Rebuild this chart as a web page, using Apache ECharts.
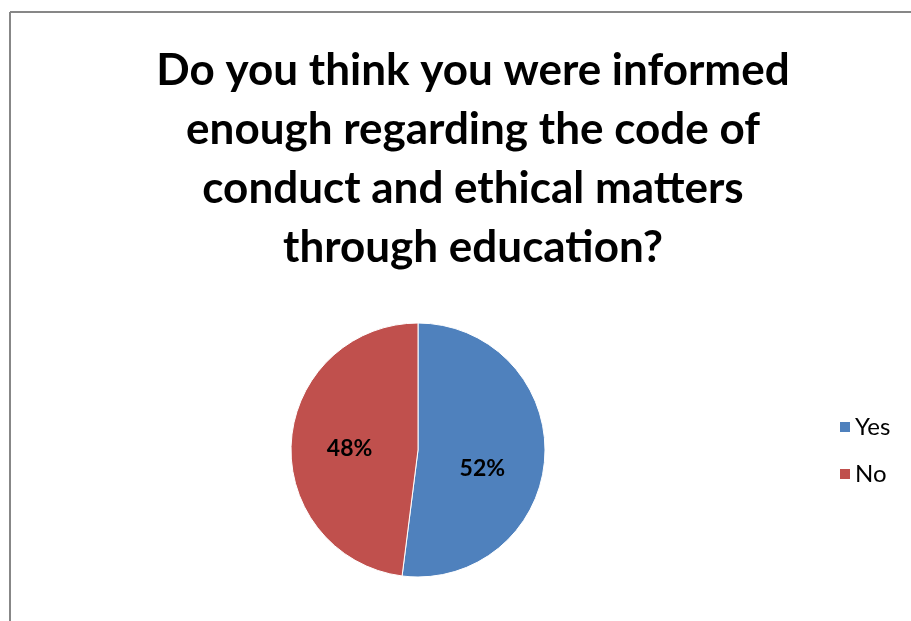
<!DOCTYPE html>
<html>
<head>
<meta charset="utf-8">
<style>
  html, body { margin: 0; padding: 0; background: #fff; }
  #chart { width: 911px; height: 621px; }
</style>
<script src="https://cdn.jsdelivr.net/npm/echarts@6/dist/echarts.min.js"></script>
</head>
<body>
<div id="chart"></div>
<script>
// Survey answers and their shares (percent)
const categories = ['Yes', 'No'];
const shares = [52, 48];
const colors = ['#4F81BD', '#C0504D'];
const titleText = 'Do you think you were informed\nenough regarding the code of\nconduct and ethical matters\nthrough education?';

const labelOffsets = [[-2, 14], [-2, 3]];

const chart = echarts.init(document.getElementById('chart'), null, { renderer: 'canvas' });

chart.setOption({
  animation: false,
  backgroundColor: '#ffffff',
  title: {
    text: titleText,
    left: 468,
    textAlign: 'center',
    top: 36,
    textStyle: {
      fontFamily: 'Lato, "Open Sans", sans-serif',
      fontWeight: 'bold',
      fontSize: 44,
      lineHeight: 59,
      color: '#000'
    }
  },
  legend: {
    orient: 'vertical',
    left: 833,
    top: 410,
    itemWidth: 12,
    itemHeight: 12,
    itemGap: 23,
    icon: 'rect',
    textStyle: {
      fontFamily: 'Lato, "Open Sans", sans-serif',
      fontSize: 24,
      color: '#000',
      padding: [0, 0, 0, -1]
    },
    data: categories
  },
  graphic: [
    { type: 'line', shape: { x1: 10, y1: 12, x2: 911, y2: 12 }, style: { stroke: '#878787', lineWidth: 2 } },
    { type: 'line', shape: { x1: 10, y1: 12, x2: 10, y2: 621 }, style: { stroke: '#878787', lineWidth: 2 } }
  ],
  series: [{
    type: 'pie',
    center: [418, 450],
    radius: [0, 127],
    startAngle: 90,
    clockwise: true,
    data: categories.map((name, i) => ({
      name,
      value: shares[i],
      itemStyle: { color: colors[i] },
      label: { offset: labelOffsets[i] }
    })),
    label: {
      show: true,
      position: 'inside',
      formatter: p => p.value + '%',
      fontFamily: 'Lato, "Open Sans", sans-serif',
      fontWeight: 'bold',
      fontSize: 23,
      color: '#000'
    },
    labelLine: { show: false },
    itemStyle: { borderColor: '#ffffff', borderWidth: 1 },
    emphasis: { disabled: true }
  }]
});
</script>
</body>
</html>
